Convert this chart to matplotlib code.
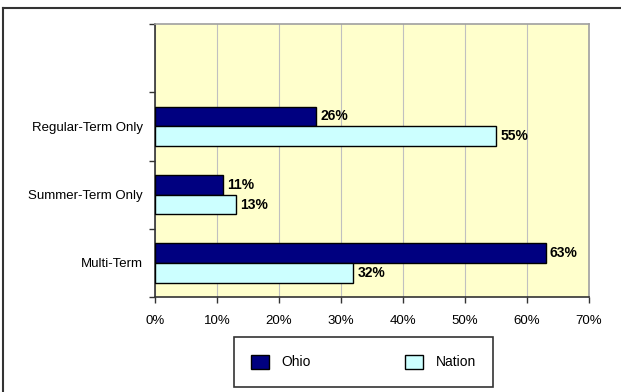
import matplotlib
matplotlib.use("Agg")
import matplotlib.pyplot as plt
from matplotlib.lines import Line2D
from matplotlib.patches import Patch

plt.rcParams['font.family'] = ['Liberation Sans', 'DejaVu Sans']

# data (bottom to top, the top slot of the chart is empty)
categories = ["Multi-Term", "Summer-Term Only", "Regular-Term Only", ""]
ohio = [63, 11, 26, None]
nation = [32, 13, 55, None]
xticks = [0, 10, 20, 30, 40, 50, 60, 70]

ohio_color = "#000080"
nation_color = "#CCFFFF"

W, H = 621, 392
fig = plt.figure(figsize=(W / 100, H / 100), dpi=100)

# outer frame (only top and left show in the reference)
fig.add_artist(Line2D([3 / W, 1], [1 - 8 / H, 1 - 8 / H], color="#333333", lw=1.5))
fig.add_artist(Line2D([3 / W, 3 / W], [1 - 8 / H, 0], color="#333333", lw=1.5))

left, right, top, bottom = 155, 589, 24, 297
ax = fig.add_axes([left / W, 1 - bottom / H, (right - left) / W, (bottom - top) / H])
ax.set_facecolor("#FFFFCC")

bh = 0.29
for i, cat in enumerate(categories):
    if ohio[i] is None:
        continue
    ax.barh(i + 0.5 + bh / 2, ohio[i], height=bh, color=ohio_color, edgecolor="black", lw=1, zorder=3)
    ax.barh(i + 0.5 - bh / 2, nation[i], height=bh, color=nation_color, edgecolor="black", lw=1, zorder=3)
    ax.annotate(f"{ohio[i]}%", (ohio[i], i + 0.5 + bh / 2), xytext=(3, 0), textcoords="offset points",
                va="center", ha="left", fontsize=10, fontweight="bold")
    ax.annotate(f"{nation[i]}%", (nation[i], i + 0.5 - bh / 2), xytext=(3, 0), textcoords="offset points",
                va="center", ha="left", fontsize=10, fontweight="bold")

ax.set_xlim(0, 70)
ax.set_ylim(0, len(categories))
ax.set_xticks(xticks)
ax.set_xticklabels([f"{v}%" for v in xticks], fontsize=9.5)
ax.xaxis.grid(True, color="#c0c0c0", lw=0.8, zorder=0)

# category ticks between slots, labels in the middle of each slot
ax.set_yticks(range(len(categories) + 1))
ax.set_yticklabels([])
ax.set_yticks([i + 0.5 for i in range(len(categories))], minor=True)
ax.set_yticklabels(categories, minor=True, fontsize=9.5)
ax.tick_params(axis="y", which="minor", length=0, pad=9)
ax.tick_params(axis="y", which="major", length=4, width=1, color="#333333")
ax.tick_params(axis="x", length=4, width=1, color="#333333", pad=9)

ax.spines["top"].set_color("#a0a0a0")
ax.spines["right"].set_color("#a0a0a0")
ax.spines["left"].set_color("#333333")
ax.spines["bottom"].set_color("#333333")
for s in ax.spines.values():
    s.set_linewidth(1.2)

handles = [Patch(facecolor=ohio_color, edgecolor="black", label="Ohio"),
           Patch(facecolor=nation_color, edgecolor="black", label="Nation")]
leg = fig.legend(handles=handles, loc="center", ncol=2,
                 bbox_to_anchor=((228 + 499) / 2 / W, 1 - (337 + 387) / 2 / H),
                 fontsize=10, frameon=True, fancybox=False, edgecolor="black",
                 handlelength=1.3, handleheight=1.2, columnspacing=6.8, borderpad=1.25,
                 handletextpad=0.9, borderaxespad=0)
leg.get_frame().set_linewidth(1.2)

fig.savefig("out.png", dpi=100)
